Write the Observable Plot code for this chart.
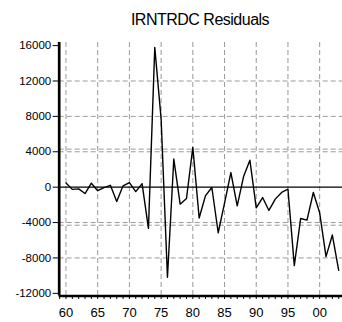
<!DOCTYPE html>
<html>
<head>
<meta charset="utf-8">
<script src="https://cdn.jsdelivr.net/npm/d3@7"></script>
<script src="https://cdn.jsdelivr.net/npm/@observablehq/plot@0.6"></script>
<style>
  body { margin: 0; background: #fff; font-family: "Liberation Sans", Arial, sans-serif; }
  #title { width: 342px; height: 34px; box-sizing: border-box; padding-top: 10px; padding-left: 58px;
           line-height: 20px; font-size: 16px; letter-spacing: -0.5px; text-align: center; color: #000; }
</style>
</head>
<body>
<div id="title">IRNTRDC Residuals</div>
<div id="chart"></div>
<script>
const years = d3.range(1960, 2004);
const residuals = [
  470, -250, -190, -720, 450, -400, -60, 210, -1620, 150,
  520, -500, 400, -4660, 15800, 7700, -10190, 3180, -1920, -1280,
  4500, -3490, -950, -40, -5150, -1800, 1650, -2110, 1200, 3040,
  -2330, -1170, -2630, -1350, -600, -230, -8870, -3540, -3720, -600,
  -2900, -7850, -5410, -9400
];
const yTicks = [-12000, -8000, -4000, 0, 4000, 8000, 12000, 16000];
const yGrid = [-8000, -4000, 4000, 8000, 12000];
const seBand = [-4300, 4300];
const xLabelYears = [1960, 1965, 1970, 1975, 1980, 1985, 1990, 1995, 2000];
const xMinorYears = d3.range(1959, 2004);

const data = years.map((y, i) => ({year: y, value: residuals[i]}));
const xDomain = [1958.93, 2003.6];
const yDomain = [-12300, 16350];

const chart = Plot.plot({
  width: 342,
  height: 288,
  marginTop: 8,
  marginBottom: 26.5,
  marginLeft: 58.7,
  marginRight: 0,
  style: {fontFamily: "'Liberation Sans', Arial, sans-serif", color: "#000", background: "#fff"},
  x: {domain: xDomain},
  y: {domain: yDomain},
  marks: [
    Plot.ruleX(xLabelYears, {stroke: "#9a9a9a", strokeWidth: 1, strokeDasharray: "5,3"}),
    Plot.ruleY(yGrid, {stroke: "#9a9a9a", strokeWidth: 1, strokeDasharray: "5,3"}),
    Plot.ruleY(seBand, {stroke: "#9a9a9a", strokeWidth: 1, strokeDasharray: "5,3"}),
    Plot.ruleY([0], {stroke: "#000", strokeWidth: 1.3}),
    Plot.lineY(data, {x: "year", y: "value", stroke: "#000", strokeWidth: 1.4}),
    Plot.axisY({ticks: yTicks, tickSize: 6, tickPadding: 2, fontSize: 11.5, label: null, tickFormat: d => String(d)}),
    Plot.axisX({ticks: xMinorYears, tickSize: 3.5, tickPadding: 8, fontSize: 13, label: null,
      tickFormat: d => (d % 5 === 0 ? String(d % 100).padStart(2, "0") : "")}),
    Plot.ruleX([xDomain[0]], {stroke: "#000", strokeWidth: 2.7}),
    Plot.ruleY([yDomain[0]], {stroke: "#000", strokeWidth: 2.6})
  ]
});
document.getElementById("chart").appendChild(chart);
</script>
</body>
</html>
